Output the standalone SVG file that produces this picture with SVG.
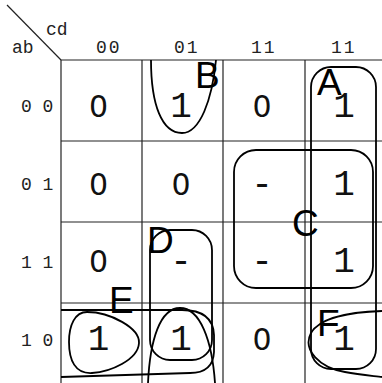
<svg xmlns="http://www.w3.org/2000/svg" width="382" height="383" viewBox="0 0 382 383">
<style>
.grid{stroke:#222;stroke-width:1.2;fill:none}
.loop{stroke:#000;stroke-width:1.8;fill:none}
.lbl{font-family:"Liberation Mono",monospace;font-size:18px;fill:#222}
.val{font-family:"Liberation Mono",monospace;font-size:36px;fill:#111;text-anchor:middle}
.val0{font-family:"DejaVu Sans",sans-serif;font-size:30px;fill:#111;text-anchor:middle}
.let{font-family:"Liberation Sans",Arial,sans-serif;font-size:37px;fill:#000}
</style>
<rect width="382" height="383" fill="#fff"/>
<g id="grid">
<line class="grid" x1="7" y1="5" x2="61" y2="60"/>
<line class="grid" x1="61" y1="60" x2="382" y2="60"/>
<line class="grid" x1="61" y1="141" x2="382" y2="141"/>
<line class="grid" x1="61" y1="222" x2="382" y2="222"/>
<line class="grid" x1="61" y1="303" x2="382" y2="303"/>
<line class="grid" x1="61" y1="60" x2="61" y2="383"/>
<line class="grid" x1="142" y1="60" x2="142" y2="383"/>
<line class="grid" x1="223" y1="60" x2="223" y2="383"/>
<line class="grid" x1="305" y1="60" x2="305" y2="383"/>
</g>
<g id="labels">
<text class="lbl" x="46" y="35">cd</text>
<text class="lbl" x="12" y="53">ab</text>
<text class="lbl" x="96" y="53" letter-spacing="2">00</text>
<text class="lbl" x="174" y="53" letter-spacing="2">01</text>
<text class="lbl" x="251" y="53" letter-spacing="2">11</text>
<text class="lbl" x="331" y="53" letter-spacing="2">11</text>
<text class="lbl" x="21" y="112">0 0</text>
<text class="lbl" x="21" y="190">0 1</text>
<text class="lbl" x="21" y="268">1 1</text>
<text class="lbl" x="21" y="346">1 0</text>
</g>
<g id="cells">
<text class="val0" x="98.5" y="117">0</text>
<text class="val" x="181" y="117">1</text>
<text class="val0" x="262" y="117" font-size="28">0</text>
<text class="val" x="344" y="117">1</text>
<text class="val0" x="98.5" y="195">0</text>
<text class="val0" x="181" y="195" font-size="28">0</text>
<text class="val" x="262" y="195">-</text>
<text class="val" x="344" y="195">1</text>
<text class="val0" x="98.5" y="272">0</text>
<text class="val" x="181" y="272">-</text>
<text class="val" x="262" y="272">-</text>
<text class="val" x="344" y="272">1</text>
<text class="val" x="98.5" y="350">1</text>
<text class="val" x="181" y="350">1</text>
<text class="val0" x="262" y="350" font-size="28">0</text>
<text class="val" x="344" y="350">1</text>
</g>
<g id="groups">
<g id="A"><rect class="loop" x="311" y="67" width="65" height="302" rx="20"/><text class="let" x="317" y="95">A</text></g>
<g id="B"><path class="loop" d="M151,60 C151,105 162,133 182,133 C200,133 212,100 216,60"/><path class="loop" d="M148,383 C150,340 160,308 180,308 C200,308 212,340 215,383"/><text class="let" x="195" y="88">B</text></g>
<g id="C"><rect class="loop" x="234" y="150" width="139" height="138" rx="22"/><text class="let" x="292" y="236">C</text></g>
<g id="D"><rect class="loop" x="150" y="230" width="62" height="130" rx="20"/><text class="let" x="147" y="253">D</text></g>
<g id="E"><path class="loop" d="M61,310 H182 Q213,310 214,335 V352 Q213,373 190,373 L61,377"/><text class="let" x="109" y="313">E</text></g>
<g id="F"><path class="loop" d="M87,312 C110,312 140,328 139,343 C138,360 110,372 92,373 C75,374 69,360 69,342 C69,325 75,312 87,312 Z"/><path class="loop" d="M382,311 C350,312 320,318 311,333 C302,350 320,368 345,372 C360,375 375,376 382,377"/><text class="let" x="317" y="336">F</text></g>
</g>
</svg>
